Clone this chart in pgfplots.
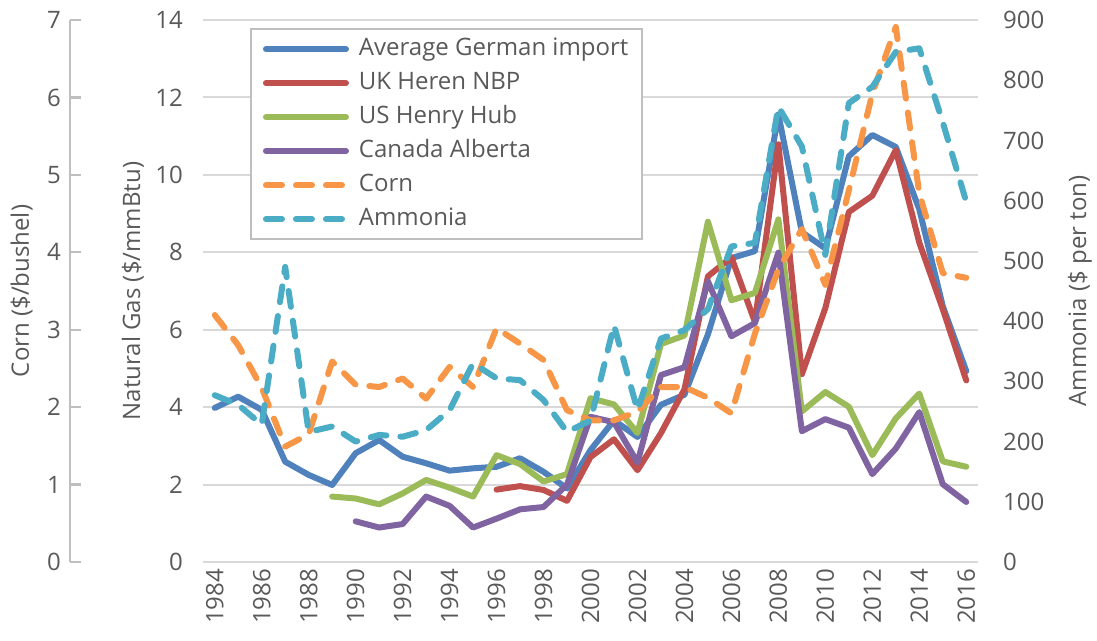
\documentclass[border=0pt]{standalone}
\usepackage{fontspec}
\setmainfont{Open Sans}
\usepackage{pgfplots}
\pgfplotsset{compat=1.18}
\usepackage{pgfplotstable}

\definecolor{cBlue}{HTML}{4F81BD}
\definecolor{cRed}{HTML}{C0504D}
\definecolor{cGreen}{HTML}{9BBB59}
\definecolor{cPurple}{HTML}{8064A2}
\definecolor{cOrange}{HTML}{F79646}
\definecolor{cAqua}{HTML}{4BACC6}
\definecolor{gridc}{HTML}{D9D9D9}
\definecolor{txtc}{HTML}{595959}
\definecolor{axc}{HTML}{BFBFBF}

\pgfplotstableread{
year val
1984 3.98
1985 4.27
1986 3.93
1987 2.59
1988 2.25
1989 1.99
1990 2.81
1991 3.15
1992 2.72
1993 2.55
1994 2.36
1995 2.42
1996 2.46
1997 2.68
1998 2.33
1999 1.90
2000 2.89
2001 3.66
2002 3.23
2003 4.06
2004 4.32
2005 5.88
2006 7.85
2007 8.03
2008 11.56
2009 8.52
2010 8.10
2011 10.48
2012 11.03
2013 10.72
2014 9.11
2015 6.61
2016 4.93
}\german

\pgfplotstableread{
year val
1996 1.87
1997 1.96
1998 1.86
1999 1.58
2000 2.71
2001 3.17
2002 2.37
2003 3.33
2004 4.46
2005 7.38
2006 7.87
2007 6.20
2008 10.79
2009 4.85
2010 6.56
2011 9.04
2012 9.46
2013 10.64
2014 8.25
2015 6.53
2016 4.69
}\uknbp

\pgfplotstableread{
year val
1989 1.69
1990 1.64
1991 1.49
1992 1.77
1993 2.12
1994 1.92
1995 1.69
1996 2.76
1997 2.53
1998 2.08
1999 2.27
2000 4.23
2001 4.07
2002 3.33
2003 5.63
2004 5.85
2005 8.79
2006 6.76
2007 6.95
2008 8.85
2009 3.89
2010 4.39
2011 4.01
2012 2.76
2013 3.71
2014 4.35
2015 2.60
2016 2.46
}\ushh

\pgfplotstableread{
year val
1990 1.05
1991 0.89
1992 0.98
1993 1.69
1994 1.45
1995 0.89
1996 1.12
1997 1.36
1998 1.42
1999 2.00
2000 3.75
2001 3.61
2002 2.57
2003 4.83
2004 5.03
2005 7.25
2006 5.83
2007 6.17
2008 7.99
2009 3.38
2010 3.69
2011 3.47
2012 2.27
2013 2.93
2014 3.87
2015 2.01
2016 1.55
}\canada

\pgfplotstableread{
year val
1984 3.19
1985 2.80
1986 2.25
1987 1.49
1988 1.65
1989 2.59
1990 2.29
1991 2.26
1992 2.37
1993 2.11
1994 2.52
1995 2.26
1996 3.02
1997 2.82
1998 2.61
1999 1.96
2000 1.83
2001 1.83
2002 1.94
2003 2.26
2004 2.26
2005 2.12
2006 1.92
2007 2.95
2008 3.78
2009 4.30
2010 3.58
2011 4.80
2012 6.05
2013 6.91
2014 4.76
2015 3.73
2016 3.67
}\corn

\pgfplotstableread{
year val
1984 277
1985 261
1986 228
1987 490
1988 216
1989 225
1990 200
1991 211
1992 208
1993 219
1994 252
1995 330
1996 305
1997 302
1998 269
1999 216
2000 235
2001 393
2002 252
2003 371
2004 385
2005 420
2006 524
2007 530
2008 756
2009 690
2010 510
2011 762
2012 789
2013 847
2014 853
2015 730
2016 598
}\ammonia

\pgfplotsset{
  base/.style={
    scale only axis, width=387.5pt, height=271pt,
    at={(101.5pt,39.5pt)}, anchor=south west,
    xmin=1983.5, xmax=2016.5,
    font=\fontsize{12}{14}\selectfont,
    /pgf/number format/assume math mode=true,
    /pgf/number format/1000 sep={},
    tick label style={text=txtc},
    label style={text=txtc},
  },
  gas/.style={line width=3pt, line join=round, line cap=round},
  dsh/.style={line width=3pt, line join=round, line cap=round, dash pattern=on 8pt off 7pt},
}

\begin{document}
\begin{tikzpicture}
\path[use as bounding box] (0,0) rectangle (548.5pt,320.5pt);

% Natural gas (main) axis
\begin{axis}[base,
  ymin=0, ymax=14, ytick={0,2,...,14},
  ymajorgrids, grid style={draw=gridc, line width=1pt},
  axis line style={draw=none},
  major tick length=0pt,
  xtick={1984,1986,...,2016},
  xticklabel style={rotate=90, anchor=east},
  yticklabel style={xshift=-6.5pt},
  ylabel={Natural Gas (\$/mmBtu)},
  ylabel style={at={(axis description cs:-0.0903,0.5)}, anchor=center},
]
\addplot[gas, cBlue] table[x=year,y=val]{\german};
\addplot[gas, cRed] table[x=year,y=val]{\uknbp};
\addplot[gas, cGreen] table[x=year,y=val]{\ushh};
\addplot[gas, cPurple] table[x=year,y=val]{\canada};
\end{axis}

% Corn data axis
\begin{axis}[base, hide axis, ymin=0, ymax=7]
\addplot[dsh, cOrange] table[x=year,y=val]{\corn};
\end{axis}

% Corn scale (outer left axis)
\begin{axis}[scale only axis, width=1pt, height=271pt,
  at={(35pt,39.5pt)}, anchor=south west,
  font=\fontsize{12}{14}\selectfont,
  /pgf/number format/assume math mode=true,
  xmin=0, xmax=1, ymin=0, ymax=7, ytick={0,...,7},
  axis y line=left, axis x line=none, xtick=\empty,
  y axis line style={draw=axc, line width=1.2pt, -},
  every tick/.style={draw=axc, line width=1.2pt},
  major tick length=5.5pt, tick align=inside,
  tick label style={text=txtc},
  label style={text=txtc},
  yticklabel style={xshift=-1pt},
  ylabel={Corn (\$/bushel)},
  ylabel style={at={(axis description cs:-24.15,0.5)}, anchor=center},
]
\end{axis}

% Ammonia axis (right)
\begin{axis}[base,
  ymin=0, ymax=900, ytick={0,100,...,900},
  axis y line*=right, axis x line=none, xtick=\empty,
  y axis line style={draw=none},
  major tick length=0pt,
  yticklabel style={anchor=west, xshift=9pt},
  ylabel={Ammonia (\$ per ton)},
  ylabel style={at={(axis description cs:1.1316,0.5)}, anchor=center},
  legend style={at={(axis description cs:0.0606,0.985)}, anchor=north west,
    draw=axc, line width=1pt, fill=white, text=txtc,
    font=\fontsize{12}{14}\selectfont,
    inner xsep=6pt, inner ysep=3pt,
    nodes={inner sep=1pt, text height=9pt, text depth=3pt},
    row sep=3pt},
  legend cell align=left,
  legend image code/.code={\draw[#1] (0pt,0pt) -- (40pt,0pt); \path (44pt,0pt);},
]
\addlegendimage{gas, cBlue}
\addlegendentry{Average German import}
\addlegendimage{gas, cRed}
\addlegendentry{UK Heren NBP}
\addlegendimage{gas, cGreen}
\addlegendentry{US Henry Hub}
\addlegendimage{gas, cPurple}
\addlegendentry{Canada Alberta}
\addlegendimage{dsh, cOrange}
\addlegendentry{Corn}
\addplot[dsh, cAqua] table[x=year,y=val]{\ammonia};
\addlegendentry{Ammonia}
\end{axis}
\end{tikzpicture}
\end{document}
